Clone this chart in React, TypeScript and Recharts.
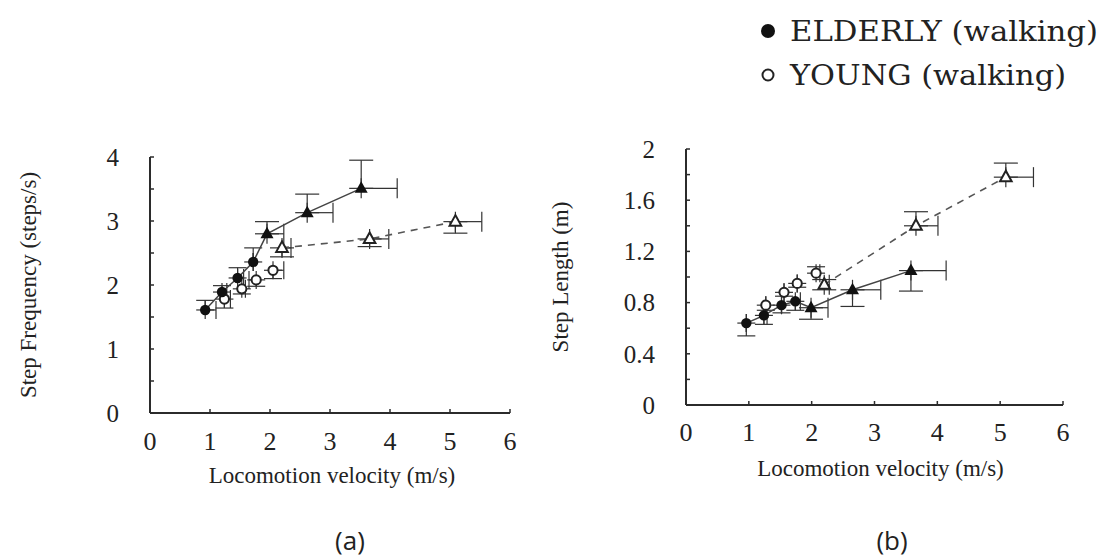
import { ErrorBar, Scatter, ScatterChart, XAxis, YAxis } from "recharts";

// velocity (m/s), value, and one-sided error extents [below, above]
type Pt = { v: number; y: number; ev: number[]; ey: number[] };

// (a) step frequency, steps/s
const elderlyWalkFreq: Pt[] = [
  { v: 0.92, y: 1.61, ev: [0, 0.18], ey: [0, 0.15] },
  { v: 1.2, y: 1.89, ev: [0, 0.08], ey: [0, 0.1] },
  { v: 1.46, y: 2.11, ev: [0, 0.1], ey: [0, 0.16] },
  { v: 1.72, y: 2.36, ev: [0, 0], ey: [0, 0.22] },
];
const elderlyRunFreq: Pt[] = [
  { v: 1.95, y: 2.8, ev: [0, 0.28], ey: [0, 0.19] },
  { v: 2.62, y: 3.13, ev: [0, 0.43], ey: [0, 0.29] },
  { v: 3.52, y: 3.51, ev: [0, 0.6], ey: [0, 0.44] },
];
const youngWalkFreq: Pt[] = [
  { v: 1.24, y: 1.78, ev: [0, 0.1], ey: [0.14, 0] },
  { v: 1.53, y: 1.94, ev: [0, 0.06], ey: [0.08, 0] },
  { v: 1.77, y: 2.08, ev: [0.12, 0], ey: [0.1, 0] },
  { v: 2.05, y: 2.23, ev: [0, 0.18], ey: [0.13, 0] },
];
const youngRunFreq: Pt[] = [
  { v: 2.2, y: 2.58, ev: [0, 0.15], ey: [0.14, 0] },
  { v: 3.66, y: 2.72, ev: [0, 0.32], ey: [0.12, 0] },
  { v: 5.09, y: 2.99, ev: [0, 0.44], ey: [0.18, 0] },
];

// (b) step length, m
const elderlyWalkLen: Pt[] = [
  { v: 0.96, y: 0.64, ev: [0, 0], ey: [0.1, 0] },
  { v: 1.24, y: 0.7, ev: [0, 0.05], ey: [0.07, 0] },
  { v: 1.52, y: 0.78, ev: [0, 0], ey: [0.06, 0] },
  { v: 1.74, y: 0.81, ev: [0, 0.08], ey: [0.07, 0] },
];
const elderlyRunLen: Pt[] = [
  { v: 1.99, y: 0.76, ev: [0, 0.27], ey: [0.09, 0] },
  { v: 2.65, y: 0.9, ev: [0, 0.45], ey: [0.13, 0] },
  { v: 3.58, y: 1.05, ev: [0, 0.56], ey: [0.16, 0] },
];
const youngWalkLen: Pt[] = [
  { v: 1.27, y: 0.78, ev: [0, 0], ey: [0.04, 0] },
  { v: 1.56, y: 0.88, ev: [0, 0], ey: [0.03, 0] },
  { v: 1.77, y: 0.95, ev: [0, 0], ey: [0.03, 0] },
  { v: 2.07, y: 1.03, ev: [0, 0.06], ey: [0, 0.05] },
];
const youngRunLen: Pt[] = [
  { v: 2.2, y: 0.94, ev: [0, 0.08], ey: [0.04, 0.04] },
  { v: 3.66, y: 1.4, ev: [0, 0.35], ey: [0, 0.11] },
  { v: 5.09, y: 1.78, ev: [0, 0.44], ey: [0, 0.11] },
];

const velocityTicks = [0, 1, 2, 3, 4, 5, 6];
const freqTicks = [0, 0.5, 1, 1.5, 2, 2.5, 3, 3.5, 4];
const freqLabelled = [0, 1, 2, 3, 4];
const lenTicks = [0, 0.2, 0.4, 0.6, 0.8, 1, 1.2, 1.4, 1.6, 1.8, 2];
const lenLabelled = [0, 0.4, 0.8, 1.2, 1.6, 2];

const SERIF = "'Liberation Serif', 'Times New Roman', serif";
const INK = "#222";
const AXIS = "#2b2b2b";

function FilledDot(p: any) {
  return <circle cx={p.cx} cy={p.cy} r={5.2} fill="#111" />;
}
function OpenDot(p: any) {
  return <circle cx={p.cx} cy={p.cy} r={4.6} fill="#fff" stroke={INK} strokeWidth={2} />;
}
function FilledTri(p: any) {
  const { cx, cy } = p;
  return <path d={`M${cx},${cy - 7}L${cx - 6.5},${cy + 4.5}L${cx + 6.5},${cy + 4.5}Z`} fill="#111" />;
}
function OpenTri(p: any) {
  const { cx, cy } = p;
  return (
    <path
      d={`M${cx},${cy - 6.5}L${cx - 5.8},${cy + 4}L${cx + 5.8},${cy + 4}Z`}
      fill="#fff"
      stroke={INK}
      strokeWidth={2}
    />
  );
}
const Nothing = () => <g />;

function yTitle(text: string, dx: number) {
  return (props: any) => {
    const vb = props.viewBox ?? { x: 0, y: 0, width: 0, height: 0 };
    const x = vb.x + dx;
    const y = vb.y + vb.height / 2;
    return (
      <text
        x={x}
        y={y}
        transform={`rotate(-90 ${x} ${y})`}
        textAnchor="middle"
        dominantBaseline="central"
        fontFamily={SERIF}
        fontSize={23}
        fill={INK}
      >
        {text}
      </text>
    );
  };
}

function xTitle(dy: number, dx: number) {
  return (props: any) => {
    const vb = props.viewBox ?? { x: 0, y: 0, width: 0, height: 0 };
    return (
      <text
        x={vb.x + vb.width / 2 + dx}
        y={vb.y + dy}
        textAnchor="middle"
        dominantBaseline="central"
        fontFamily={SERIF}
        fontSize={23}
        fill={INK}
      >
        Locomotion velocity (m/s)
      </text>
    );
  };
}

const errStyle = { stroke: "#333", strokeWidth: 1.2 };

function Panel({
  data,
  yTicks,
  labelled,
  yMax,
  title,
  margin,
  yWidth,
  xHeight,
  titleDx,
  xTitleDy,
  xTitleDx,
  xTickMargin,
}: {
  data: Pt[][];
  yTicks: number[];
  labelled: number[];
  yMax: number;
  title: string;
  margin: { top: number; right: number; bottom: number; left: number };
  yWidth: number;
  xHeight: number;
  titleDx: number;
  xTitleDy: number;
  xTitleDx: number;
  xTickMargin: number;
}) {
  const [eWalk, eRun, yWalk, yRun] = data;
  const elderlyPath = [...eWalk, ...eRun];
  return (
    <ScatterChart width={540} height={510} margin={margin} style={{ fontFamily: SERIF }}>
      <XAxis
        type="number"
        dataKey="v"
        domain={[0, 6]}
        ticks={velocityTicks}
        interval={0}
        height={xHeight}
        axisLine={{ stroke: AXIS, strokeWidth: 2 }}
        tickLine={{ stroke: AXIS, strokeWidth: 1.5 }}
        tickSize={-4}
        tickMargin={xTickMargin}
        tick={{ fill: INK, fontSize: 26, fontFamily: SERIF }}
        label={{ value: "Locomotion velocity (m/s)", content: xTitle(xTitleDy, xTitleDx) }}
      />
      <YAxis
        type="number"
        dataKey="y"
        domain={[0, yMax]}
        ticks={yTicks}
        interval={0}
        width={yWidth}
        axisLine={{ stroke: AXIS, strokeWidth: 2 }}
        tickLine={{ stroke: AXIS, strokeWidth: 1.5 }}
        tickSize={-4}
        tickMargin={35}
        tickFormatter={(t: number) => (labelled.includes(t) ? String(t) : "")}
        tick={{ fill: INK, fontSize: 25, fontFamily: SERIF }}
        label={{ value: title, content: yTitle(title, titleDx) }}
      />
      <Scatter
        data={elderlyPath}
        shape={Nothing}
        line={{ stroke: "#444", strokeWidth: 1.5 }}
        lineType="joint"
        isAnimationActive={false}
      />
      <Scatter
        data={yRun}
        shape={Nothing}
        line={{ stroke: "#555", strokeWidth: 1.6, strokeDasharray: "7 6" }}
        lineType="joint"
        isAnimationActive={false}
      />
      <Scatter data={yWalk} shape={OpenDot} isAnimationActive={false}>
        <ErrorBar dataKey="ey" direction="y" width={9} {...errStyle} isAnimationActive={false} />
        <ErrorBar dataKey="ev" direction="x" width={9} {...errStyle} isAnimationActive={false} />
      </Scatter>
      <Scatter data={yRun} shape={OpenTri} isAnimationActive={false}>
        <ErrorBar dataKey="ey" direction="y" width={12} {...errStyle} isAnimationActive={false} />
        <ErrorBar dataKey="ev" direction="x" width={10} {...errStyle} isAnimationActive={false} />
      </Scatter>
      <Scatter data={eWalk} shape={FilledDot} isAnimationActive={false}>
        <ErrorBar dataKey="ey" direction="y" width={9} {...errStyle} isAnimationActive={false} />
        <ErrorBar dataKey="ev" direction="x" width={9} {...errStyle} isAnimationActive={false} />
      </Scatter>
      <Scatter data={eRun} shape={FilledTri} isAnimationActive={false}>
        <ErrorBar dataKey="ey" direction="y" width={12} {...errStyle} isAnimationActive={false} />
        <ErrorBar dataKey="ev" direction="x" width={10} {...errStyle} isAnimationActive={false} />
      </Scatter>
    </ScatterChart>
  );
}

const captionStyle = {
  position: "absolute" as const,
  top: 520,
  width: 100,
  textAlign: "center" as const,
  fontFamily: "'Open Sans', sans-serif",
  fontSize: 26,
  lineHeight: "40px",
  color: INK,
};

export default function App() {
  return (
    <div
      style={{
        position: "absolute",
        left: 0,
        top: 0,
        width: 1110,
        height: 559,
        background: "#fff",
        overflow: "hidden",
      }}
    >
      <style>{`.recharts-cartesian-axis-tick-value { font-family: ${SERIF}; }`}</style>
      <div style={{ position: "absolute", left: 0, top: 0 }}>
        <Panel
          data={[elderlyWalkFreq, elderlyRunFreq, youngWalkFreq, youngRunFreq]}
          yTicks={freqTicks}
          labelled={freqLabelled}
          yMax={4}
          title="Step Frequency (steps/s)"
          margin={{ top: 157, right: 30, bottom: 30, left: 0 }}
          yWidth={150}
          xHeight={67}
          titleDx={28}
          xTitleDy={62}
          xTitleDx={2}
          xTickMargin={23}
        />
      </div>
      <div style={{ position: "absolute", left: 540, top: 0 }}>
        <Panel
          data={[elderlyWalkLen, elderlyRunLen, youngWalkLen, youngRunLen]}
          yTicks={lenTicks}
          labelled={lenLabelled}
          yMax={2}
          title="Step Length (m)"
          margin={{ top: 149, right: 17, bottom: 30, left: 0 }}
          yWidth={146}
          xHeight={75}
          titleDx={20}
          xTitleDy={63}
          xTitleDx={6}
          xTickMargin={22}
        />
      </div>

      <svg style={{ position: "absolute", left: 740, top: 0 }} width={370} height={100}>
        <circle cx={28} cy={31} r={7} fill="#111" />
        <text
          x={50}
          y={31}
          dominantBaseline="central"
          fontFamily="'DejaVu Serif', serif"
          fontSize={27}
          fill={INK}
          textLength={308}
          lengthAdjust="spacingAndGlyphs"
        >
          ELDERLY (walking)
        </text>
        <circle cx={28} cy={75} r={5.5} fill="none" stroke={INK} strokeWidth={2} />
        <text
          x={50}
          y={75}
          dominantBaseline="central"
          fontFamily="'DejaVu Serif', serif"
          fontSize={27}
          fill={INK}
          textLength={276}
          lengthAdjust="spacingAndGlyphs"
        >
          YOUNG (walking)
        </text>
      </svg>

      <div style={{ ...captionStyle, left: 300 }}>(a)</div>
      <div style={{ ...captionStyle, left: 842 }}>(b)</div>
    </div>
  );
}
